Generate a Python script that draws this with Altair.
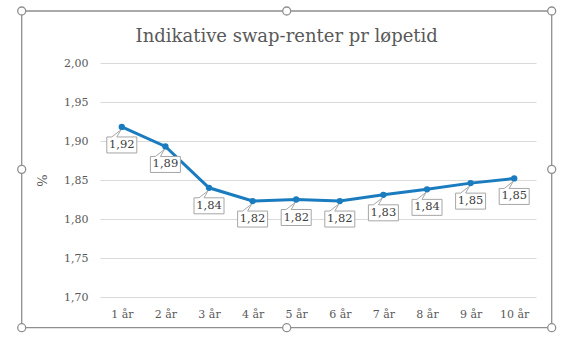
import altair as alt
import pandas as pd

# ---- data ----
categories = ["1 år", "2 år", "3 år", "4 år", "5 år", "6 år", "7 år", "8 år", "9 år", "10 år"]
values = [1.918, 1.893, 1.840, 1.823, 1.825, 1.823, 1.831, 1.838, 1.846, 1.852]
y_ticks = [1.70, 1.75, 1.80, 1.85, 1.90, 1.95, 2.00]
y_domain = [1.70, 2.00]
title_text = "Indikative swap-renter pr løpetid"
y_title = "%"

df = pd.DataFrame({"cat": categories, "v": values})

FONT = "DejaVu Serif"
BLUE = "#1A7CBF"
TXT = "#595959"
FRAME = "#8F8F8F"

W, H = 436, 234
PAD_L, PAD_T = 100, 63

# callout box (units of 15px, drawn relative to the data point)
BOX_PATH = ("M -1 0.6667 L -0.6667 0.6667 L -0.0667 0.2 L -0.3333 0.6667 "
            "L 1 0.6667 L 1 1.7333 L -1 1.7333 Z")

x_enc = alt.X(
    "cat:N", sort=categories,
    scale=alt.Scale(type="point", padding=0.5),
    axis=alt.Axis(labelAngle=0, ticks=False, domain=False, grid=False,
                  labelFont=FONT, labelFontSize=11, labelColor=TXT,
                  labelPadding=11, title=None),
)
y_enc = alt.Y(
    "v:Q",
    scale=alt.Scale(domain=y_domain, nice=False, zero=False),
    axis=alt.Axis(values=y_ticks,
                  labelExpr="replace(format(datum.value, '.2f'), '.', ',')",
                  grid=True, gridColor="#D9D9D9", gridWidth=1,
                  ticks=False, domain=False, labelPadding=12,
                  labelFont=FONT, labelFontSize=11, labelColor=TXT,
                  title=y_title, titleFont=FONT, titleFontSize=13,
                  titleFontWeight="normal", titleColor=TXT,
                  titleX=-51, titleY=H / 2),
)

base = alt.Chart(df).transform_calculate(
    lab="replace(format(datum.v, '.2f'), '.', ',')"
).encode(x=x_enc, y=y_enc)

line = base.mark_line(color=BLUE, strokeWidth=3)
boxes = base.mark_point(shape=BOX_PATH, size=900, filled=True, fill="white",
                        fillOpacity=1, stroke="#A6A6A6", strokeWidth=1,
                        strokeOpacity=1, opacity=1)
dots = base.mark_point(shape="circle", size=40, filled=True, color=BLUE, opacity=1)
labels = base.mark_text(dy=18, font=FONT, fontSize=11.5, color="#404040").encode(
    text="lab:N")

# decorative chart-area frame with selection handles
one = alt.Data(values=[{"a": 1}])
fx0, fx1 = 21.7 - PAD_L, 551.7 - PAD_L
fy0, fy1 = 11 - PAD_T, 327.7 - PAD_T
fxm, fym = (fx0 + fx1) / 2, (fy0 + fy1) / 2
frame = alt.Chart(one).mark_rect(fillOpacity=0, stroke=FRAME, strokeWidth=1.3).encode(
    x=alt.value(fx0), x2=alt.value(fx1), y=alt.value(fy0), y2=alt.value(fy1))
handles = []
for hx, hy in [(fx0, fy0), (fxm, fy0), (fx1, fy0), (fx0, fym), (fx1, fym),
               (fx0, fy1), (fxm, fy1), (fx1, fy1)]:
    handles.append(
        alt.Chart(one).mark_point(shape="circle", size=64, filled=True, fill="white",
                                  fillOpacity=1, stroke=FRAME, strokeWidth=1.3,
                                  opacity=1)
        .encode(x=alt.value(hx), y=alt.value(hy)))

# chart title, centred in the chart area
title = alt.Chart(one).mark_text(font=FONT, fontSize=18, color=TXT,
                                 align="center", baseline="middle").encode(
    x=alt.value(fxm), y=alt.value(37 - PAD_T), text=alt.value(title_text))

chart = alt.layer(line, boxes, dots, labels, frame, *handles, title).properties(
    width=W, height=H,
    padding={"left": PAD_L, "top": PAD_T, "right": 565 - PAD_L - W,
             "bottom": 352 - PAD_T - H},
    autosize=alt.AutoSizeParams(type="none"),
    background="white",
).configure_view(stroke=None)

chart.save("out.html", embed_options={"renderer": "svg", "actions": False})
